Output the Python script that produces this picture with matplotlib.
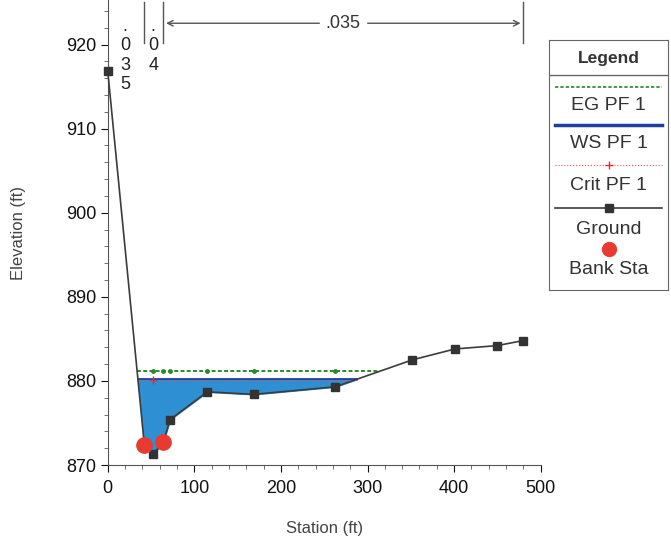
import matplotlib.pyplot as plt
import matplotlib.transforms as mtransforms
from matplotlib.ticker import MultipleLocator
import numpy as np

plt.rcParams['font.family'] = ['Liberation Sans', 'DejaVu Sans']

# cross section data
station = [0, 42.3, 52.7, 64.2, 72.0, 115.0, 168.6, 262.8, 351.7, 401.0, 449.9, 480.0]
ground = [916.9, 872.4, 871.3, 872.7, 875.4, 878.7, 878.4, 879.3, 882.5, 883.8, 884.2, 884.8]
bank_sta = [42.3, 64.2]
bank_elev = [872.4, 872.7]
ws_elev = 880.2
ws_sta = [34.9, 287.8]
eg_elev = 881.2
eg_sta = [34.0, 313.0]
crit_elev = 880.1
n_values = ['.035', '.04', '.035']

fig = plt.figure(figsize=(6.71, 5.42), dpi=100)
ax = fig.add_axes([107.7 / 671, 77 / 542, (540.7 - 107.7) / 671, 465 / 542])

sta = np.array(station)
grd = np.array(ground)

# water fill between ground and water surface
inside = (sta > ws_sta[0]) & (sta < ws_sta[1])
xf = np.concatenate([[ws_sta[0]], sta[inside], [ws_sta[1]]])
yf = np.interp(xf, sta, grd)
ax.fill_between(xf, yf, ws_elev, color='#2f8fd3', zorder=2)
ax.plot(ws_sta, [ws_elev, ws_elev], color='#1e3f9e', lw=1.3, zorder=3)

# critical and energy grade
ax.plot(ws_sta, [crit_elev, crit_elev], color='#e85050', lw=0.8, ls=':', zorder=3)
ax.plot([52.7], [crit_elev], marker='+', color='#e03030', ms=6, zorder=3)
ax.plot(eg_sta, [eg_elev, eg_elev], color='#2a8a2a', lw=1.4, ls=(0, (2, 1.2)), zorder=3)
ax.plot(station[2:8], [eg_elev] * 6, ls='none', marker='o', ms=2.5, color='#2a8a2a', zorder=3)

# ground
ax.plot(station, ground, color='#3c3c3c', lw=1.2, marker='s', ms=6,
        mfc='#333333', mec='#333333', zorder=4, clip_on=False)
ax.plot(bank_sta, bank_elev, ls='none', marker='o', ms=11, color='#e83a30', zorder=5)

ax.set_xlim(0, 500)
ax.set_ylim(870, 925.3)
ax.xaxis.set_major_locator(MultipleLocator(100))
ax.xaxis.set_minor_locator(MultipleLocator(20))
ax.yaxis.set_minor_locator(MultipleLocator(2))
ax.set_yticks([870, 880, 890, 900, 910, 920])
ax.tick_params(which='major', direction='out', length=5, pad=3, labelsize=13,
               colors='#111111')
ax.tick_params(axis='x', which='major', pad=6)
ax.tick_params(which='minor', direction='out', length=3, color='#555555')
for s in ['top', 'right']:
    ax.spines[s].set_visible(False)
for s in ['left', 'bottom']:
    ax.spines[s].set_color('#555555')
ax.set_xlabel('Station (ft)', fontsize=12, color='#444444', labelpad=17)
ax.set_ylabel('Elevation (ft)', fontsize=12, color='#444444', labelpad=29)

# Manning's n annotations at the top
trans = mtransforms.blended_transform_factory(ax.transData, ax.transAxes)
for x in bank_sta + [station[-1]]:
    ax.plot([x, x], [0.9075, 0.996], transform=trans, color='#555555', lw=1, clip_on=False)
ax.annotate('', xy=(station[-1], 0.95), xytext=(bank_sta[1], 0.95), xycoords=trans,
            textcoords=trans, arrowprops=dict(arrowstyle='<->', color='#555555', lw=1))
mid = (bank_sta[1] + station[-1]) / 2
ax.text(mid, 0.95, n_values[2], transform=trans, ha='center', va='center', fontsize=13,
        color='#333333', backgroundcolor='white')
for x, lab in [(20, n_values[0]), (52.5, n_values[1])]:
    ax.text(x, 0.962, '\n'.join(lab), transform=trans, ha='center', va='top',
            fontsize=13, color='#222222', linespacing=1.2)

# legend drawn as a small panel
lg = fig.add_axes([549 / 671, (542 - 290) / 542, 119 / 671, 250 / 542])
lg.set_xlim(0, 1)
lg.set_ylim(250, 0)
lg.set_xticks([])
lg.set_yticks([])
for s in lg.spines.values():
    s.set_color('#666666')
fs = 14
lg.text(0.5, 18, 'Legend', ha='center', va='center', fontsize=12.5, fontweight='bold', color='#333333')
lg.axhline(35, color='#666666', lw=1)
lg.plot([0.05, 0.95], [47, 47], color='#2a8a2a', lw=1.2, ls=(0, (2, 1.2)))
lg.text(0.5, 66, 'EG PF 1', ha='center', va='center', fontsize=fs, color='#333333')
lg.plot([0.05, 0.95], [85, 85], color='#1e3f9e', lw=2.5)
lg.text(0.5, 103, 'WS PF 1', ha='center', va='center', fontsize=fs, color='#333333')
lg.plot([0.05, 0.95], [125, 125], color='#e85050', lw=0.8, ls=':')
lg.plot([0.5], [125], marker='+', color='#e03030', ms=6)
lg.text(0.5, 146, 'Crit PF 1', ha='center', va='center', fontsize=fs, color='#333333')
lg.plot([0.05, 0.95], [168, 168], color='#3c3c3c', lw=1.2)
lg.plot([0.5], [168], marker='s', ms=6, color='#333333')
lg.text(0.5, 189, 'Ground', ha='center', va='center', fontsize=fs, color='#333333')
lg.plot([0.5], [209], marker='o', ms=10, color='#e83a30')
lg.text(0.5, 229, 'Bank Sta', ha='center', va='center', fontsize=fs, color='#333333')

fig.savefig('out.png', dpi=100)
